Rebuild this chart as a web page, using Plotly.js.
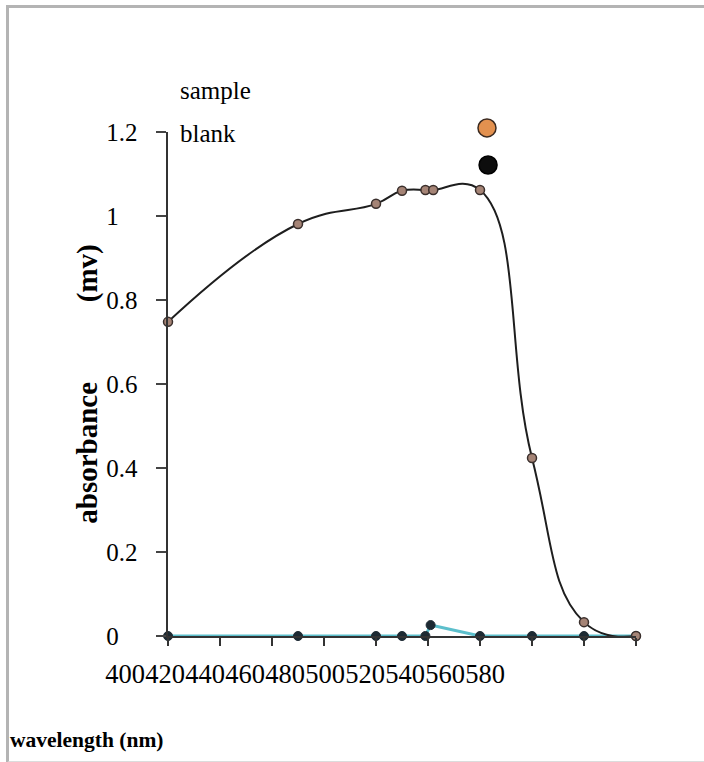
<!DOCTYPE html>
<html>
<head>
<meta charset="utf-8">
<script src="https://cdn.plot.ly/plotly-3.0.1.min.js"></script>
<style>
  html, body { margin: 0; padding: 0; background: #ffffff; }
  #wrap { position: relative; width: 704px; height: 762px; overflow: hidden; }
  #chart { width: 704px; height: 762px; }
  #frame { position: absolute; left: 6px; top: 5px; width: 720px; height: 753px;
           border-left: 3px solid #b4b4b4; border-top: 3px solid #b4b4b4;
           border-bottom: 2px solid #dcdcdc; pointer-events: none; }
</style>
</head>
<body>
<div id="wrap">
  <div id="chart"></div>
  <div id="frame"></div>
</div>
<script>
// ---- data ----
const sampleWavelength = [400, 450, 480, 490, 499, 502, 520, 540, 560, 580];
const sampleAbsorbance = [0.748, 0.981, 1.029, 1.060, 1.062, 1.062, 1.062, 0.424, 0.033, 0.0];

const blankWavelength = [400, 450, 480, 490, 499, 501, 520, 540, 560, 580];
const blankAbsorbance = [0, 0, 0, 0, 0, 0.026, 0, 0, 0, 0];

const xTickValues = [400, 420, 440, 460, 480, 500, 520, 540, 560, 580];
const xTickLabels = ["400", "420", "440", "460", "480", "500", "520", "540", "560", "580"];
const yTickValues = [0, 0.2, 0.4, 0.6, 0.8, 1.0, 1.2];
const yTickLabels = ["0\u00a0\u00a0\u00a0", "0.2", "0.4", "0.6", "0.8", "1\u00a0\u00a0\u00a0", "1.2"];

const seriesNames = ["sample", "blank"];

// ---- styles ----
const FONT = "Liberation Serif, Times New Roman, serif";

const traces = [
  {
    x: blankWavelength, y: blankAbsorbance, name: seriesNames[1],
    type: "scatter", mode: "lines+markers", cliponaxis: false,
    line: { color: "#5cbfcc", width: 3 },
    marker: { color: "#1d2a33", size: 9, line: { color: "#1d2a33", width: 1 } },
    showlegend: false, hoverinfo: "x+y"
  },
  {
    x: sampleWavelength, y: sampleAbsorbance, name: seriesNames[0],
    type: "scatter", mode: "lines+markers", cliponaxis: false,
    line: { color: "#1e1e1e", width: 2, shape: "spline", smoothing: 1.3 },
    marker: { color: "#a58476", size: 9, line: { color: "#3a2f2c", width: 1.5 } },
    showlegend: false, hoverinfo: "x+y"
  },
  {
    // carrier for the label-only axis
    x: xTickValues, y: xTickValues.map(() => null), xaxis: "x2", yaxis: "y",
    type: "scatter", mode: "markers", showlegend: false, hoverinfo: "skip"
  }
];

const layout = {
  width: 704, height: 762,
  margin: { l: 100, r: 68, t: 132, b: 126 },
  paper_bgcolor: "#ffffff", plot_bgcolor: "rgba(0,0,0,0)",
  font: { family: FONT, color: "#000000", size: 22 },
  showlegend: false,
  xaxis: {
    domain: [0.1269, 1], range: [400, 580], anchor: "y",
    showline: true, linecolor: "#333333", linewidth: 2,
    ticks: "outside", ticklen: 8, tickwidth: 2, tickcolor: "#333333",
    tickvals: xTickValues, showticklabels: false,
    showgrid: false, zeroline: false
  },
  xaxis2: {
    domain: [0, 1], range: [387.5, 655.5], anchor: "y",
    showline: false, ticks: "", showgrid: false, zeroline: false,
    tickvals: xTickValues, ticktext: xTickLabels, tickangle: 0,
    ticklabelstandoff: 19,
    tickfont: { family: FONT, size: 26.5, color: "#000000" }
  },
  yaxis: {
    range: [0, 1.2], anchor: "x",
    showline: true, linecolor: "#333333", linewidth: 2.5,
    ticks: "outside", ticklen: 10, tickwidth: 2, tickcolor: "#444444",
    tickvals: yTickValues, ticktext: yTickLabels,
    ticklabelstandoff: 13,
    tickfont: { family: FONT, size: 25, color: "#000000" },
    showgrid: false, zeroline: false,
    title: {
      text: "<b>absorbance" + "\u00a0".repeat(11) + "(mv)</b>",
      font: { family: FONT, size: 29, color: "#000000" },
      standoff: 0
    }
  },
  annotations: [
    { text: "sample", xref: "paper", yref: "paper", x: 0.1455, y: 1.083,
      xanchor: "left", yanchor: "middle", showarrow: false,
      font: { family: FONT, size: 25, color: "#000000" } },
    { text: "blank", xref: "paper", yref: "paper", x: 0.1455, y: 0.998,
      xanchor: "left", yanchor: "middle", showarrow: false,
      font: { family: FONT, size: 25, color: "#000000" } },
    { text: "<b>wavelength (nm)</b>", xref: "paper", yref: "paper", x: -0.171, y: -0.206,
      xanchor: "left", yanchor: "middle", showarrow: false,
      font: { family: FONT, size: 21.5, color: "#000000" } }
  ],
  shapes: [
    { type: "circle", xref: "paper", yref: "paper", xsizemode: "pixel", ysizemode: "pixel",
      xanchor: 0.722, yanchor: 1.008, x0: -9, x1: 9, y0: -9, y1: 9,
      fillcolor: "#e3914f", line: { color: "#3b2a20", width: 1.5 } },
    { type: "circle", xref: "paper", yref: "paper", xsizemode: "pixel", ysizemode: "pixel",
      xanchor: 0.724, yanchor: 0.9345, x0: -9, x1: 9, y0: -9, y1: 9,
      fillcolor: "#0d0d0d", line: { color: "#000000", width: 1.5 } }
  ]
};

Plotly.newPlot("chart", traces, layout, { displayModeBar: false, staticPlot: true });
</script>
</body>
</html>
